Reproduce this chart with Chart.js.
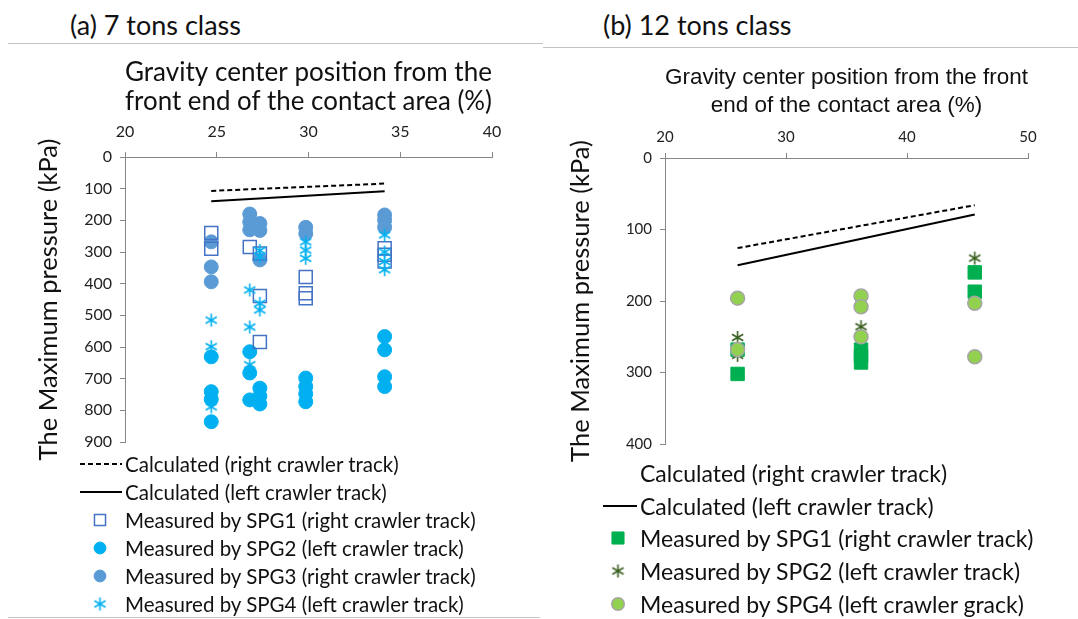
<!DOCTYPE html>
<html>
<head>
<meta charset="utf-8">
<script src="https://cdn.jsdelivr.net/npm/chart.js@4.4.1/dist/chart.umd.min.js"></script>
<style>
  body { margin: 0; width: 1078px; height: 619px; position: relative; background: #fff; overflow: hidden; font-family: Lato, sans-serif; }
  .panel-title { position: absolute; font-size: 27px; color: #111; white-space: nowrap; }
  .rule { position: absolute; height: 1px; background: #c4c4c4; }
  canvas.chart { position: absolute; top: 0; }
  .legend-row { position: absolute; display: flex; align-items: center; white-space: nowrap; color: #111; }
</style>
</head>
<body>
<div class="panel-title" style="left:70px; top:8px;">(a) 7 tons class</div>
<div class="panel-title" style="left:603px; top:8px;">(b) 12 tons class</div>
<div class="rule" style="left:8px; top:43px; width:535px;"></div>
<div class="rule" style="left:543px; top:47px; width:535px;"></div>
<div class="rule" style="left:8px; top:617px; width:532px;"></div>

<canvas id="chartA" class="chart" width="540" height="480" style="left:0"></canvas>
<canvas id="chartB" class="chart" width="538" height="480" style="left:540px"></canvas>

<script>
// ---- (a) 7 tons class ----
const xTicksA = [20, 25, 30, 35, 40];
const yTicksA = [0, 100, 200, 300, 400, 500, 600, 700, 800, 900];
const calcRightA = [[24.7, 107], [34.15, 84]];
const calcLeftA = [[24.7, 140], [34.15, 108]];
const spg1A = [[24.7, 240], [24.7, 290], [26.8, 284], [27.35, 305], [27.35, 439], [27.35, 584],
               [29.85, 379], [29.85, 430], [29.85, 446], [34.15, 288], [34.15, 309], [34.15, 330]];
const spg2A = [[24.7, 631], [24.7, 741], [24.7, 765], [24.7, 836], [26.8, 615], [26.8, 682], [26.8, 767],
               [27.35, 730], [27.35, 755], [27.35, 780], [29.85, 698], [29.85, 725], [29.85, 748], [29.85, 773],
               [34.15, 567], [34.15, 609], [34.15, 694], [34.15, 725]];
const spg3A = [[24.7, 268], [24.7, 347], [24.7, 394], [26.8, 180], [26.8, 205], [26.8, 230],
               [27.35, 210], [27.35, 232], [27.35, 325], [29.85, 222], [29.85, 242],
               [34.15, 183], [34.15, 200], [34.15, 222]];
const spg4A = [[24.7, 515], [24.7, 599], [24.7, 789], [26.8, 420], [26.8, 537], [26.8, 656],
               [27.35, 295], [27.35, 315], [27.35, 462], [27.35, 483], [29.85, 268], [29.85, 294], [29.85, 320],
               [34.15, 246], [34.15, 300], [34.15, 330], [34.15, 356]];

// ---- (b) 12 tons class ----
const xTicksB = [20, 30, 40, 50];
const yTicksB = [0, 100, 200, 300, 400];
const calcRightB = [[26.0, 126], [45.6, 66]];
const calcLeftB = [[26.0, 150], [45.6, 79]];
const spg1B = [[26.0, 268], [26.0, 302], [36.2, 268], [36.2, 277], [36.2, 286], [45.6, 160], [45.6, 187]];
const spg2B = [[26.0, 251], [26.0, 276], [36.2, 236], [45.6, 140]];
const spg4B = [[26.0, 196], [26.0, 268], [36.2, 193], [36.2, 208], [36.2, 250], [45.6, 203], [45.6, 278]];

const toXY = pts => pts.map(p => ({ x: p[0], y: p[1] }));

// six-armed asterisk marker
function asterisk(color, size, lw) {
  const c = document.createElement('canvas');
  c.width = c.height = size;
  const g = c.getContext('2d');
  const m = size / 2, r = size / 2 - 1;
  const dx = r * Math.sin(Math.PI / 3), dy = r * Math.cos(Math.PI / 3);
  g.strokeStyle = color;
  g.lineWidth = lw;
  g.beginPath();
  g.moveTo(m, m - r); g.lineTo(m, m + r);
  g.moveTo(m - dx, m - dy); g.lineTo(m + dx, m + dy);
  g.moveTo(m + dx, m - dy); g.lineTo(m - dx, m + dy);
  g.stroke();
  return c;
}

function lineSet(label, pts, dash, order) {
  return {
    label: label, data: toXY(pts), showLine: true, borderColor: '#000', borderWidth: 2,
    borderDash: dash, pointRadius: 0, pointHoverRadius: 0, order: order
  };
}

function pointSet(label, pts, style, radius, fill, stroke, bw, order) {
  return {
    label: label, data: toXY(pts), showLine: false, pointStyle: style, pointRadius: radius,
    pointBackgroundColor: fill, pointBorderColor: stroke, pointBorderWidth: bw, order: order
  };
}

function scales(o) {
  const axisColor = '#878787';
  return {
    x: {
      type: 'linear', position: 'top', min: o.xTicks[0], max: o.xTicks[o.xTicks.length - 1],
      ticks: { stepSize: o.xTicks[1] - o.xTicks[0], color: '#222', font: { family: 'Lato', size: o.tickSize }, padding: o.xTickPad },
      grid: { drawOnChartArea: false, color: axisColor, tickLength: 5 },
      border: { color: axisColor },
      title: { display: true, text: o.xTitle, color: '#111', font: o.xTitleFont, padding: { top: o.xTitleTop, bottom: 0 } },
      afterFit: s => { s.height = o.top; }
    },
    y: {
      type: 'linear', reverse: true, min: o.yTicks[0], max: o.yTicks[o.yTicks.length - 1],
      ticks: { stepSize: o.yTicks[1] - o.yTicks[0], color: '#222', font: { family: 'Lato', size: o.tickSize }, padding: 8 },
      grid: { drawOnChartArea: false, color: axisColor, tickLength: 5 },
      border: { color: axisColor },
      title: { display: true, text: 'The Maximum pressure (kPa)', color: '#111', font: o.yTitleFont, padding: { top: o.yTitleTop, bottom: 0 } },
      afterFit: s => { s.width = o.left; }
    }
  };
}

function makeChart(id, datasets, o) {
  return new Chart(document.getElementById(id), {
    type: 'scatter',
    data: { datasets: datasets },
    options: {
      responsive: false, animation: false, devicePixelRatio: 1,
      layout: { padding: { left: 0, top: 0, right: o.right, bottom: o.bottom } },
      plugins: { legend: { display: false }, tooltip: { enabled: false } },
      scales: scales(o)
    }
  });
}

// legend rows built from the chart's datasets
function buildLegend(chart, o) {
  chart.data.datasets.forEach((ds, i) => {
    const row = document.createElement('div');
    row.className = 'legend-row';
    row.style.left = o.x + 'px';
    row.style.top = (o.y + i * o.step - o.h / 2) + 'px';
    row.style.height = o.h + 'px';
    row.style.fontSize = o.fontSize + 'px';
    const sym = document.createElement('canvas');
    sym.width = o.symW; sym.height = o.h;
    const g = sym.getContext('2d');
    if (ds.showLine) {
      if (!o.noSymbol.includes(i)) {
        g.strokeStyle = ds.borderColor; g.lineWidth = ds.borderWidth;
        g.setLineDash(ds.borderDash || []);
        g.beginPath(); g.moveTo(o.lineX0, o.h / 2); g.lineTo(o.lineX1, o.h / 2); g.stroke();
      }
    } else {
      g.fillStyle = ds.pointBackgroundColor;
      g.strokeStyle = ds.pointBorderColor;
      g.lineWidth = ds.pointBorderWidth;
      Chart.helpers.drawPoint(g, { pointStyle: ds.pointStyle, radius: ds.pointRadius * o.markScale, rotation: 0, borderWidth: ds.pointBorderWidth }, o.markX, o.h / 2);
    }
    const txt = document.createElement('span');
    txt.textContent = ds.label;
    txt.style.marginLeft = o.gap + 'px';
    row.appendChild(sym);
    row.appendChild(txt);
    document.body.appendChild(row);
  });
}

const chartA = makeChart('chartA', [
  lineSet('Calculated (right crawler track)', calcRightA, [5, 3], 1),
  lineSet('Calculated (left crawler track)', calcLeftA, [], 1),
  pointSet('Measured by SPG1 (right crawler track)', spg1A, 'rect', 9.2, 'rgba(255,255,255,0)', '#4472C4', 1.5, 3),
  pointSet('Measured by SPG2 (left crawler track)', spg2A, 'circle', 7, '#00B0F0', '#00B0F0', 1, 5),
  pointSet('Measured by SPG3 (right crawler track)', spg3A, 'circle', 7, '#5B9BD5', '#5B9BD5', 1, 4),
  pointSet('Measured by SPG4 (left crawler track)', spg4A, asterisk('#00B0F0', 15, 1.6), 7, '#00B0F0', '#00B0F0', 0, 2)
], {
  xTicks: xTicksA, yTicks: yTicksA, tickSize: 16, xTickPad: 11, top: 157, left: 125, right: 48, bottom: 38,
  xTitle: ['Gravity center position from the', 'front end of the contact area (%)'],
  xTitleFont: { family: 'Lato', size: 27, lineHeight: 1.1 }, xTitleTop: 57,
  yTitleFont: { family: 'Lato', size: 25.5, lineHeight: 1.2 }, yTitleTop: 33
});

const chartB = makeChart('chartB', [
  lineSet('Calculated (right crawler track)', calcRightB, [5, 3], 1),
  lineSet('Calculated (left crawler track)', calcLeftB, [], 1),
  pointSet('Measured by SPG1 (right crawler track)', spg1B, 'rect', 9.5, '#00B050', '#00B050', 1, 4),
  pointSet('Measured by SPG2 (left crawler track)', spg2B, asterisk('#3B6121', 15, 1.6), 7, '#3B6121', '#3B6121', 0, 3),
  pointSet('Measured by SPG4 (left crawler grack)', spg4B, 'circle', 7, '#92D050', '#A6A6A6', 1.5, 2)
], {
  xTicks: xTicksB, yTicks: yTicksB, tickSize: 15, xTickPad: 7, top: 158, left: 125, right: 50, bottom: 36,
  xTitle: ['Gravity center position from the front', 'end of the contact area (%)'],
  xTitleFont: { family: 'Liberation Sans', size: 22.5, lineHeight: 1.25 }, xTitleTop: 64,
  yTitleFont: { family: 'Lato', size: 25.5, lineHeight: 1.2 }, yTitleTop: 25
});

buildLegend(chartA, { x: 78, y: 464, step: 28, h: 26, fontSize: 20.5, symW: 46, gap: 1, lineX0: 2, lineX1: 44, markX: 22, markScale: 0.85, noSymbol: [] });
buildLegend(chartB, { x: 600, y: 473, step: 32.7, h: 30, fontSize: 23, symW: 38, gap: 2, lineX0: 3, lineX1: 37, markX: 18, markScale: 0.9, noSymbol: [0] });
</script>
</body>
</html>
